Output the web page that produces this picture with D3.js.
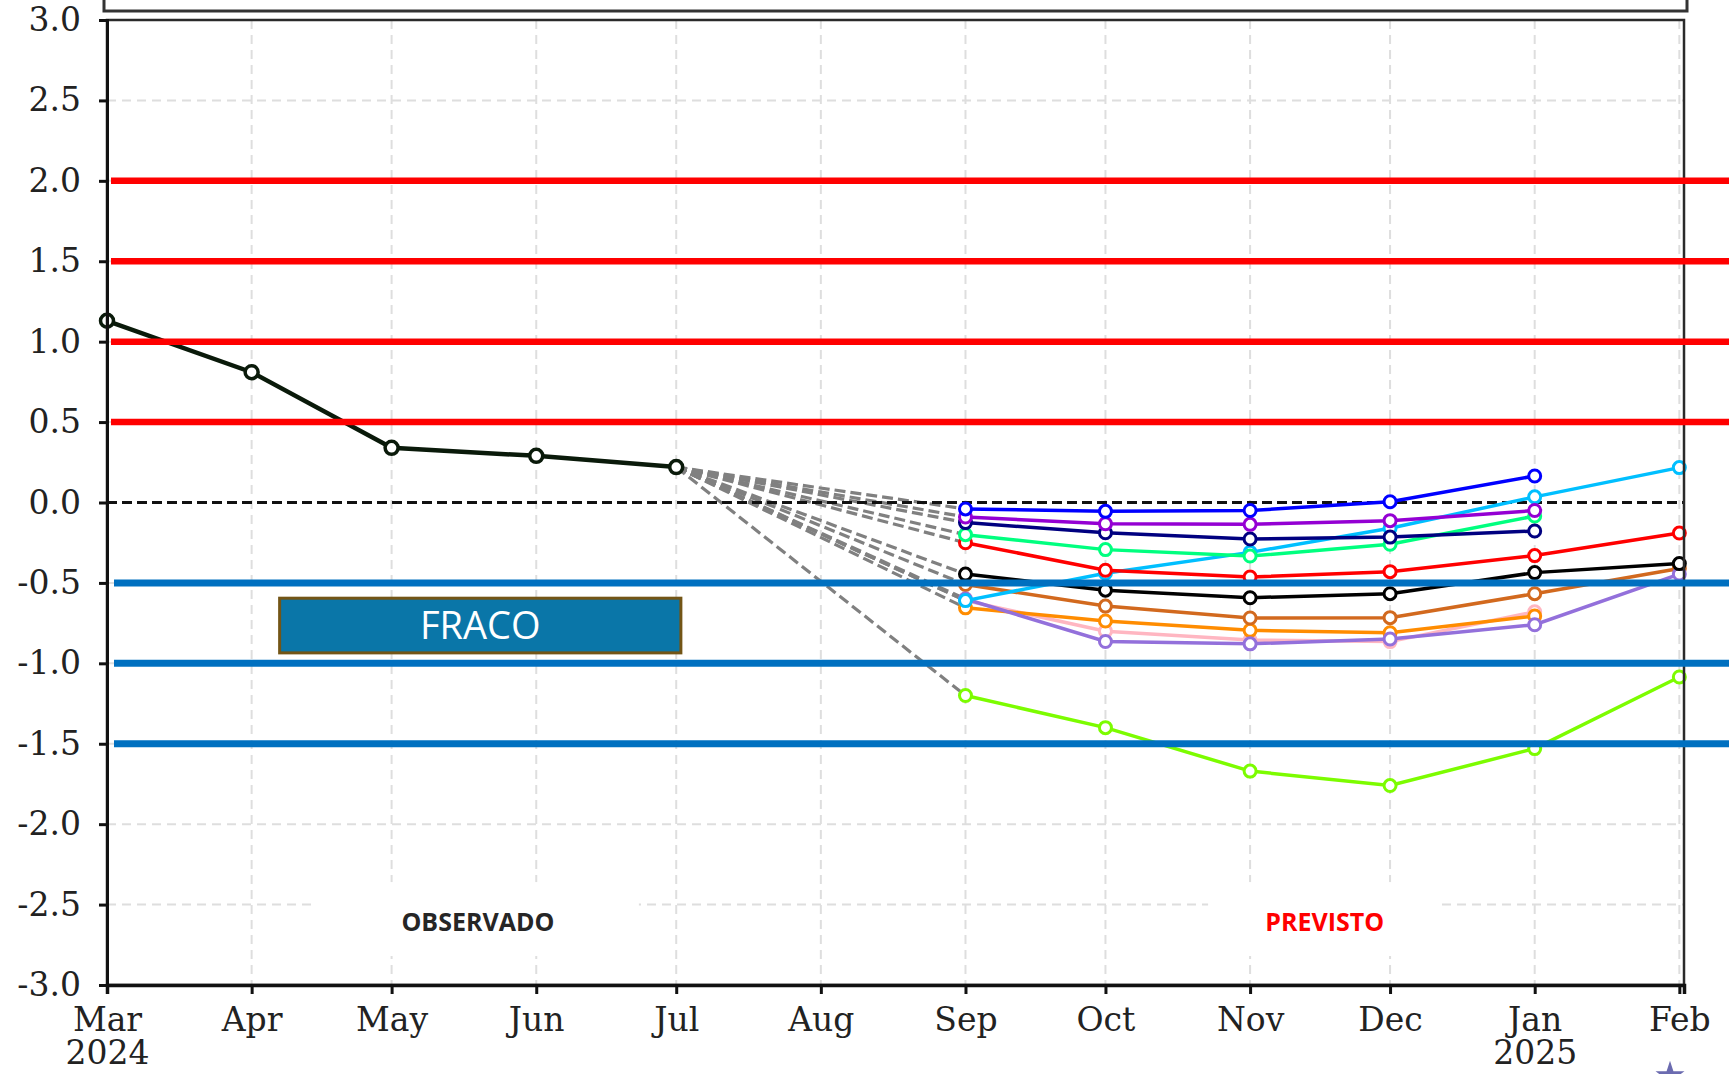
<!DOCTYPE html>
<html>
<head>
<meta charset="utf-8">
<script src="https://cdn.jsdelivr.net/npm/d3@7"></script>
<style>
  body { margin: 0; background: #fff; }
  svg { display: block; }
</style>
</head>
<body>
<svg id="chart"></svg>
<script>
// month ticks and their labels
const tickDates = ['2024-03-01', '2024-04-01', '2024-05-01', '2024-06-01', '2024-07-01', '2024-08-01',
  '2024-09-01', '2024-10-01', '2024-11-01', '2024-12-01', '2025-01-01', '2025-02-01'];
const monthLabels = ['Mar', 'Apr', 'May', 'Jun', 'Jul', 'Aug', 'Sep', 'Oct', 'Nov', 'Dec', 'Jan', 'Feb'];
const yearLabels = ['2024', '', '', '', '', '', '', '', '', '', '2025', ''];
const yTicks = [3.0, 2.5, 2.0, 1.5, 1.0, 0.5, 0.0, -0.5, -1.0, -1.5, -2.0, -2.5, -3.0];

// observed values
const obsDates = ['2024-03-01', '2024-04-01', '2024-05-01', '2024-06-01', '2024-07-01'];
const obsValues = [1.13, 0.81, 0.34, 0.29, 0.22];

// forecast members (Sep 2024 onwards)
const fcDates = ['2024-09-01', '2024-10-01', '2024-11-01', '2024-12-01', '2025-01-01', '2025-02-01'];
const fcLawn = [-1.20, -1.40, -1.67, -1.76, -1.53, -1.085];
const fcPink = [-0.61, -0.80, -0.855, -0.865, -0.68];
const fcOrange = [-0.655, -0.737, -0.795, -0.81, -0.706];
const fcBrown = [-0.51, -0.644, -0.718, -0.716, -0.567, -0.41];
const fcLavender = [-0.60, -0.864, -0.879, -0.849, -0.76, -0.445];
const fcBlack = [-0.445, -0.545, -0.592, -0.567, -0.436, -0.38];
const fcSky = [-0.61, -0.44, -0.31, -0.16, 0.035, 0.217];
const fcRed = [-0.25, -0.421, -0.463, -0.43, -0.33, -0.19];
const fcSpring = [-0.20, -0.293, -0.333, -0.26, -0.084];
const fcNavy = [-0.125, -0.188, -0.227, -0.215, -0.177];
const fcViolet = [-0.09, -0.132, -0.136, -0.113, -0.05];
const fcBlue = [-0.04, -0.055, -0.05, 0.005, 0.165];

const members = [
  { values: fcLawn, color: '#7cfc00' },
  { values: fcPink, color: '#ffb6c1' },
  { values: fcOrange, color: '#ff8c00' },
  { values: fcBrown, color: '#d2691e' },
  { values: fcLavender, color: '#9370db' },
  { values: fcBlack, color: '#000000' },
  { values: fcSky, color: '#00bfff' },
  { values: fcRed, color: '#ff0000' },
  { values: fcSpring, color: '#00ff7f' },
  { values: fcNavy, color: '#000080' },
  { values: fcViolet, color: '#9400d3' },
  { values: fcBlue, color: '#0000ff' }
];

// threshold lines laid over the plot
const redLevels = [2.0, 1.5, 1.0, 0.5];
const blueLevels = [-0.5, -1.0, -1.5];

const W = 1729, H = 1074;
const margin = { top: 20, right: 45, bottom: 89, left: 107 };
const w = W - margin.left - margin.right;
const h = H - margin.top - margin.bottom;

const parse = d3.timeParse('%Y-%m-%d');

const svg = d3.select('#chart')
  .attr('width', W)
  .attr('height', H)
  .style('font-family', 'DejaVu Serif, serif');

const x = d3.scaleTime()
  .domain([parse('2024-03-01'), parse('2025-02-02')])
  .range([0, w]);

const y = d3.scaleLinear()
  .domain([-3, 3])
  .range([h, 0]);

// cut-off box above the plot
svg.append('rect')
  .attr('x', margin.left - 3).attr('y', -20)
  .attr('width', w + 6).attr('height', 31)
  .attr('fill', 'none')
  .attr('stroke', '#333')
  .attr('stroke-width', 3);

const g = svg.append('g')
  .attr('transform', `translate(${margin.left},${margin.top})`);

// grid
g.append('g').selectAll('line')
  .data(tickDates)
  .join('line')
  .attr('x1', d => x(parse(d))).attr('x2', d => x(parse(d)))
  .attr('y1', 0).attr('y2', h)
  .attr('stroke', '#dedede')
  .attr('stroke-width', 2)
  .attr('stroke-dasharray', '9,6');

g.append('g').selectAll('line')
  .data(yTicks.filter(v => v !== 0))
  .join('line')
  .attr('x1', 0).attr('x2', w)
  .attr('y1', d => y(d)).attr('y2', d => y(d))
  .attr('stroke', '#dedede')
  .attr('stroke-width', 2)
  .attr('stroke-dasharray', '9,6');

// white boxes behind the section labels
const sectionLabels = [
  { text: 'OBSERVADO', from: '2024-04-15', to: '2024-06-23', color: '#262626' },
  { text: 'PREVISTO', from: '2024-10-23', to: '2024-12-12', color: '#ff0000' }
];
g.append('g').selectAll('rect')
  .data(sectionLabels)
  .join('rect')
  .attr('x', d => x(parse(d.from)))
  .attr('width', d => x(parse(d.to)) - x(parse(d.from)))
  .attr('y', y(-2.36)).attr('height', y(-2.82) - y(-2.36))
  .attr('fill', '#fff');
g.append('g').selectAll('text')
  .data(sectionLabels)
  .join('text')
  .attr('x', d => (x(parse(d.from)) + x(parse(d.to))) / 2)
  .attr('y', y(-2.665))
  .attr('text-anchor', 'middle')
  .attr('font-family', 'Open Sans, sans-serif')
  .attr('font-weight', 700)
  .attr('font-size', 25)
  .attr('fill', d => d.color)
  .text(d => d.text);

const line = d3.line()
  .x(d => x(d.date))
  .y(d => y(d.value));

const julDate = parse(obsDates[obsDates.length - 1]);
const julValue = obsValues[obsValues.length - 1];

// dashed connectors from the last observation to each member's first month
g.append('g').selectAll('line')
  .data(members)
  .join('line')
  .attr('x1', x(julDate)).attr('y1', y(julValue))
  .attr('x2', x(parse(fcDates[0]))).attr('y2', d => y(d.values[0]))
  .attr('stroke', '#808080')
  .attr('stroke-width', 3.2)
  .attr('stroke-dasharray', '11,5');

// zero line
g.append('line')
  .attr('x1', 0).attr('x2', w)
  .attr('y1', y(0)).attr('y2', y(0))
  .attr('stroke', '#111')
  .attr('stroke-width', 3)
  .attr('stroke-dasharray', '10,5');

// forecast members
members.forEach(m => {
  const pts = m.values.map((v, i) => ({ date: parse(fcDates[i]), value: v }));
  const s = g.append('g');
  s.append('path')
    .datum(pts)
    .attr('d', line)
    .attr('fill', 'none')
    .attr('stroke', m.color)
    .attr('stroke-width', 3.5);
  s.selectAll('circle')
    .data(pts)
    .join('circle')
    .attr('cx', d => x(d.date))
    .attr('cy', d => y(d.value))
    .attr('r', 6)
    .attr('fill', '#fff')
    .attr('stroke', m.color)
    .attr('stroke-width', 3);
});

// observed
const obs = obsValues.map((v, i) => ({ date: parse(obsDates[i]), value: v }));
g.append('path')
  .datum(obs)
  .attr('d', line)
  .attr('fill', 'none')
  .attr('stroke', '#0a1a0a')
  .attr('stroke-width', 4.5);
g.append('g').selectAll('circle')
  .data(obs)
  .join('circle')
  .attr('cx', d => x(d.date))
  .attr('cy', d => y(d.value))
  .attr('r', 6.5)
  .attr('fill', '#fff')
  .attr('stroke', '#0a1a0a')
  .attr('stroke-width', 3.5);

// frame
g.append('rect')
  .attr('width', w).attr('height', h)
  .attr('fill', 'none')
  .attr('stroke', '#2a2a2a')
  .attr('stroke-width', 2.5);

// axes
const yAxis = d3.axisLeft(y)
  .tickValues(yTicks)
  .tickFormat(d => d3.format('.1f')(d).replace('−', '-'))
  .tickSize(8)
  .tickPadding(18);
const yg = g.append('g').call(yAxis);
yg.select('.domain').attr('stroke', '#111').attr('stroke-width', 3);
yg.selectAll('.tick line').attr('stroke', '#111').attr('stroke-width', 3);
yg.selectAll('text')
  .attr('font-family', 'DejaVu Serif, serif')
  .attr('font-size', 33)
  .attr('fill', '#222');

const xAxis = d3.axisBottom(x)
  .tickValues(tickDates.map(parse))
  .tickFormat((d, i) => monthLabels[i])
  .tickSize(9)
  .tickPadding(14);
const xg = g.append('g')
  .attr('transform', `translate(0,${h})`)
  .call(xAxis);
xg.select('.domain').attr('stroke', '#111').attr('stroke-width', 3.5);
xg.selectAll('.tick line').attr('stroke', '#111').attr('stroke-width', 3);
xg.selectAll('text')
  .attr('font-family', 'DejaVu Serif, serif')
  .attr('font-size', 33)
  .attr('fill', '#222');

// year under the first and January ticks
xg.selectAll('.tick')
  .filter((d, i) => yearLabels[i])
  .append('text')
  .attr('y', 23 + 33)
  .attr('dy', '0.71em')
  .attr('text-anchor', 'middle')
  .attr('font-family', 'DejaVu Serif, serif')
  .attr('font-size', 33)
  .attr('fill', '#222')
  .text(d => yearLabels[tickDates.map(parse).findIndex(t => +t === +d)]);

// threshold lines, running out past the right edge
g.append('g').selectAll('line')
  .data(redLevels)
  .join('line')
  .attr('x1', 4).attr('x2', W)
  .attr('y1', d => y(d)).attr('y2', d => y(d))
  .attr('stroke', '#ff0000')
  .attr('stroke-width', 6.5);
g.append('g').selectAll('line')
  .data(blueLevels)
  .join('line')
  .attr('x1', 7).attr('x2', W)
  .attr('y1', d => y(d)).attr('y2', d => y(d))
  .attr('stroke', '#0070c0')
  .attr('stroke-width', 7);

// FRACO label box
const fraco = { text: 'FRACO', from: '2024-04-07', to: '2024-07-02', top: -0.595, bottom: -0.935 };
g.append('rect')
  .attr('x', x(parse(fraco.from)))
  .attr('width', x(parse(fraco.to)) - x(parse(fraco.from)))
  .attr('y', y(fraco.top))
  .attr('height', y(fraco.bottom) - y(fraco.top))
  .attr('fill', '#0a76a8')
  .attr('stroke', '#735516')
  .attr('stroke-width', 3);
g.append('text')
  .attr('x', (x(parse(fraco.from)) + x(parse(fraco.to))) / 2)
  .attr('y', y((fraco.top + fraco.bottom) / 2))
  .attr('dy', '0.36em')
  .attr('text-anchor', 'middle')
  .attr('font-family', 'Open Sans, sans-serif')
  .attr('font-size', 38)
  .attr('fill', '#fff')
  .text(fraco.text);

// bit of a logo peeking in at the bottom right
svg.append('path')
  .attr('d', d3.symbol(d3.symbolStar, 260)())
  .attr('transform', `translate(${margin.left + x(parse('2025-01-30'))},${H + 2})`)
  .attr('fill', '#6b6bb0');
</script>
</body>
</html>
